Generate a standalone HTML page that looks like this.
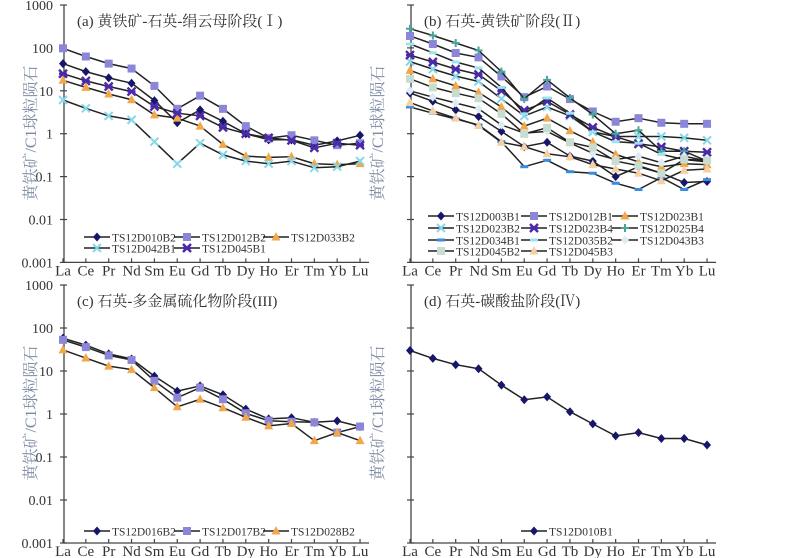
<!DOCTYPE html>
<html><head><meta charset="utf-8">
<style>
html,body{margin:0;padding:0;background:#fff;overflow:hidden;}
svg{display:block;font-family:"Liberation Serif","Noto Serif CJK SC",serif;}
</style></head>
<body>
<svg id="chart" width="800" height="558" viewBox="0 0 800 558" xmlns="http://www.w3.org/2000/svg"></svg>
<script>
const elements = ["La","Ce","Pr","Nd","Sm","Eu","Gd","Tb","Dy","Ho","Er","Tm","Yb","Lu"];
const yTicks = [1000,100,10,1,0.1,0.01,0.001];
const yTickLabels = ["1000","100","10","1","0.1","0.01","0.001"];

// Panel (a)
const aNames = ["TS12D010B2","TS12D012B2","TS12D033B2","TS12D042B1","TS12D045B1"];
const a010B2 = [43,28,20,15,5.9,1.8,3.6,1.95,1.0,0.72,0.72,0.54,0.68,0.92];
const a012B2 = [98,63,43,33,13,3.8,7.7,3.8,1.5,0.79,0.92,0.7,0.54,0.6];
const a033B2 = [17.6,12,8.4,6.2,2.75,2.3,1.5,0.56,0.3,0.28,0.29,0.2,0.19,0.2];
const a042B1 = [6.1,3.9,2.6,2.1,0.65,0.2,0.6,0.32,0.23,0.2,0.23,0.16,0.17,0.23];
const a045B1 = [25,17,12.6,9.6,4.3,3.0,2.6,1.4,1.0,0.8,0.7,0.47,0.6,0.54];

// Panel (b)
const bNames = ["TS12D003B1","TS12D012B1","TS12D023B1","TS12D023B2","TS12D023B4","TS12D025B4","TS12D034B1","TS12D035B2","TS12D043B3","TS12D045B2","TS12D045B3"];
const b003B1 = [8.9,5.7,3.6,2.5,1.13,0.5,0.63,0.3,0.23,0.1,0.17,0.12,0.073,0.077];
const b012B1 = [190,123,76,60,21.6,7.1,12.6,6.4,3.3,1.9,2.3,1.8,1.7,1.7];
const b023B1 = [30,19,13,9.2,4.2,1.5,2.3,1.17,0.64,0.33,0.22,0.17,0.2,0.19];
const b023B2 = [48,32,22,16.5,6.5,2.6,4.2,2.6,1.1,0.86,0.86,0.86,0.8,0.7];
const b023B4 = [68,47,32,24,10,3.5,5.7,2.8,1.4,0.85,0.58,0.49,0.39,0.37];
const b025B4 = [280,195,130,87,28,6.5,18,6.8,2.8,1.0,1.2,0.39,0.39,0.23];
const b034B1 = [4.2,3.0,2.2,1.6,0.65,0.17,0.24,0.13,0.12,0.07,0.05,0.095,0.05,0.085];
const b035B2 = [123,77,47,34,12,2.9,6.8,3.0,1.1,0.65,0.6,0.33,0.25,0.22];
const b043B3 = [10,7.1,5.2,3.8,1.6,1.03,1.13,0.61,0.35,0.25,0.3,0.21,0.3,0.23];
const b045B2 = [19,12,8.8,6.7,2.9,0.99,1.37,0.63,0.48,0.23,0.18,0.12,0.25,0.24];
const b045B3 = [5.3,3.4,2.3,1.55,0.63,0.5,0.34,0.29,0.19,0.15,0.12,0.08,0.14,0.15];

// Panel (c)
const cNames = ["TS12D016B2","TS12D017B2","TS12D028B2"];
const c016B2 = [58,40,25,19,7.6,3.4,4.5,2.8,1.3,0.77,0.82,0.64,0.69,0.51];
const c017B2 = [53,36,23,18,5.9,2.4,4.1,2.2,1.04,0.7,0.66,0.64,0.37,0.51];
const c028B2 = [31,20,13,10.8,4.1,1.47,2.2,1.4,0.84,0.53,0.6,0.24,0.37,0.24];

// Panel (d)
const dNames = ["TS12D010B1"];
const d010B1 = [30,19.6,14,11.3,4.7,2.15,2.5,1.13,0.59,0.31,0.37,0.27,0.27,0.19];

const NS = "http://www.w3.org/2000/svg";
const svg = document.getElementById("chart");
function mk(tag, attrs, parent){
  const e = document.createElementNS(NS, tag);
  for (const k in attrs) e.setAttribute(k, attrs[k]);
  (parent||svg).appendChild(e);
  return e;
}

const styles = {
  diamond:{shape:"diamond",fill:"#17166b"},
  square:{shape:"square",fill:"#8b86d8"},
  tri:{shape:"tri",fill:"#f2a74a"},
  xcyan:{shape:"x",fill:"#86d8ea"},
  star:{shape:"star",fill:"#4b2aa8"},
  plus:{shape:"plus",fill:"#4aa39c"},
  bar:{shape:"bar",fill:"#3a8ce0"},
  barlight:{shape:"bar",fill:"#9be4f4"},
  dlight:{shape:"diamond",fill:"#dcecf4"},
  sqgray:{shape:"square",fill:"#c9dcd0"},
  tripeach:{shape:"tri",fill:"#f5cfa6"}
};

function marker(g, st, x, y){
  const f = st.fill;
  let m;
  if (st.shape==="diamond") m = mk("polygon",{points:`${x},${y-4.5} ${x+4},${y} ${x},${y+4.5} ${x-4},${y}`,fill:f},g);
  else if (st.shape==="square") m = mk("rect",{x:x-4,y:y-4,width:8,height:8,fill:f},g);
  else if (st.shape==="tri") m = mk("polygon",{points:`${x},${y-5} ${x+4.5},${y+3.5} ${x-4.5},${y+3.5}`,fill:f},g);
  else if (st.shape==="x") m = mk("path",{d:`M${x-4},${y-4}L${x+4},${y+4}M${x-4},${y+4}L${x+4},${y-4}`,stroke:f,"stroke-width":2,fill:"none"},g);
  else if (st.shape==="star") m = mk("path",{d:`M${x-4},${y-4}L${x+4},${y+4}M${x-4},${y+4}L${x+4},${y-4}M${x-4},${y}L${x+4},${y}`,stroke:f,"stroke-width":2.4,fill:"none"},g);
  else if (st.shape==="plus") m = mk("path",{d:`M${x-4},${y}L${x+4},${y}M${x},${y-4}L${x},${y+4}`,stroke:f,"stroke-width":2,fill:"none"},g);
  else if (st.shape==="bar") m = mk("rect",{x:x-4,y:y-1.5,width:8,height:3,fill:f},g);
  return m;
}

function panel(p){
  const g = mk("g",{});
  
  
  const x0 = p.x0, dx = 22.85, yTop = p.yTop, dec = p.dec;
  const xs = i => x0 + i*dx;
  const ys = v => yTop + (3 - Math.log10(v))*dec;
  const yBot = ys(0.001);
  const ax = mk("path",{d:`M${x0+1},${yTop}L${x0+1},${yBot}L${x0+1+13*dx+8},${yBot}`,stroke:"#444",fill:"none","stroke-width":1.3},g);
  
  
  yTicks.forEach((t,i)=>{
    const y = ys(t);
    mk("line",{x1:x0-3,x2:x0+4,y1:y,y2:y,stroke:"#444","stroke-width":1.2},g);
    if (p.showY){
      const tx = mk("text",{x:x0-10,y:y+5,"text-anchor":"end","font-size":14,fill:"#333"},g);
      tx.textContent = yTickLabels[i];
      
      
    }
  });
  elements.forEach((el,i)=>{
    const x = xs(i);
    mk("line",{x1:x,x2:x,y1:yBot,y2:yBot-4,stroke:"#444","stroke-width":1.2},g);
    const tx = mk("text",{x:x,y:yBot+13,"text-anchor":"middle","font-size":15,fill:"#333"},g);
    tx.textContent = el;
    
    
  });
  const yt = mk("text",{x:0,y:0,transform:`translate(${p.titleX},${yTop+128}) rotate(-90)`,"text-anchor":"middle","font-size":16,fill:"#7c8aa2"},g);
  yt.textContent = "黄铁矿/C1球粒陨石";
  
  
  const pt = mk("text",{x:x0+14,y:yTop+21,"font-size":15,fill:"#333"},g);
  pt.textContent = p.title;
  
  
  p.series.forEach((s)=>{
    const sg = mk("g",{},g);
    
    
    const pts = s.data.map((v,i)=>`${xs(i).toFixed(1)},${ys(v).toFixed(1)}`).join(" ");
    mk("polyline",{points:pts,fill:"none",stroke:"#222","stroke-width":1.5},sg);
    s.data.forEach((v,i)=>{
      const m = marker(sg, styles[s.st], xs(i), ys(v));
      
      
    });
  });
  p.series.forEach((s,k)=>{
    const pos = p.legend[k];
    const lg = mk("g",{},g);
    
    
    mk("line",{x1:pos[0],x2:pos[0]+26,y1:pos[1],y2:pos[1],stroke:"#222","stroke-width":1.5},lg);
    marker(lg, styles[s.st], pos[0]+13, pos[1]);
    const t = mk("text",{x:pos[0]+28,y:pos[1]+4.5,"font-size":11.5,fill:"#333"},lg);
    t.textContent = s.name;
  });
}

const colA = 84, colB = 174, colC = 263;
panel({id:"panel-a", x0:63, yTop:5, dec:42.9, showY:true, titleX:36,
  title:"(a) 黄铁矿-石英-绢云母阶段(Ⅰ)",
  series:[
    {name:aNames[0],data:a010B2,st:"diamond"},
    {name:aNames[1],data:a012B2,st:"square"},
    {name:aNames[2],data:a033B2,st:"tri"},
    {name:aNames[3],data:a042B1,st:"xcyan"},
    {name:aNames[4],data:a045B1,st:"star"}],
  legend:[[colA,237],[colB,237],[colC,237],[colA,248],[colB,248]]});

const bl1 = 428, bl2 = 521, bl3 = 612;
panel({id:"panel-b", x0:410, yTop:5, dec:42.9, showY:false, titleX:383,
  title:"(b) 石英-黄铁矿阶段(Ⅱ)",
  series:[
    {name:bNames[0],data:b003B1,st:"diamond"},
    {name:bNames[1],data:b012B1,st:"square"},
    {name:bNames[2],data:b023B1,st:"tri"},
    {name:bNames[3],data:b023B2,st:"xcyan"},
    {name:bNames[4],data:b023B4,st:"star"},
    {name:bNames[5],data:b025B4,st:"plus"},
    {name:bNames[6],data:b034B1,st:"bar"},
    {name:bNames[7],data:b035B2,st:"barlight"},
    {name:bNames[8],data:b043B3,st:"dlight"},
    {name:bNames[9],data:b045B2,st:"sqgray"},
    {name:bNames[10],data:b045B3,st:"tripeach"}],
  legend:[[bl1,216],[bl2,216],[bl3,216],[bl1,228],[bl2,228],[bl3,228],[bl1,240],[bl2,240],[bl3,240],[bl1,251],[bl2,251]]});

panel({id:"panel-c", x0:63, yTop:285, dec:43, showY:true, titleX:36,
  title:"(c) 石英-多金属硫化物阶段(III)",
  series:[
    {name:cNames[0],data:c016B2,st:"diamond"},
    {name:cNames[1],data:c017B2,st:"square"},
    {name:cNames[2],data:c028B2,st:"tri"}],
  legend:[[colA,531],[colB,531],[colC,531]]});

panel({id:"panel-d", x0:410, yTop:285, dec:43, showY:false, titleX:383,
  title:"(d) 石英-碳酸盐阶段(Ⅳ)",
  series:[{name:dNames[0],data:d010B1,st:"diamond"}],
  legend:[[bl2,531]]});
</script>
</body></html>
